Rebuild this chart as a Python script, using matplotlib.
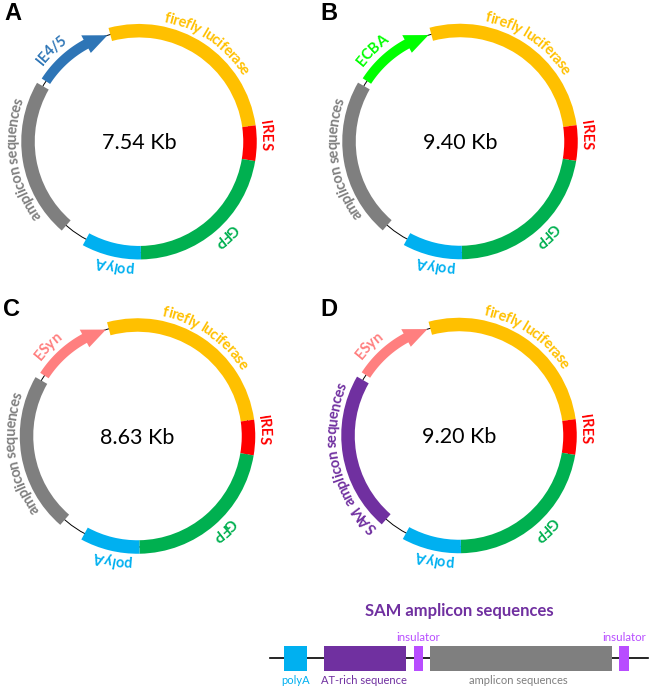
import numpy as np
import matplotlib
matplotlib.use('Agg')
import matplotlib.pyplot as plt
from matplotlib.font_manager import FontProperties, findfont, get_font
from matplotlib.ft2font import LoadFlags
from matplotlib.patches import Circle, Polygon, Rectangle, Wedge

# Ring segments, degrees clockwise from the top of the circle.
segment_names = ['firefly luciferase', 'IRES', 'GFP', 'polyA']
segment_starts = [-15, 82, 99.5, 179]
segment_ends = [82, 99.5, 179, 208.5]
segment_colors = ['#FFC000', '#FF0000', '#00B050', '#00B0F0']
segment_label_mid = [34.5, 87, 137.5, 191]

insert_start = 221
insert_end = 300
promoter_start = 303
promoter_end = 343.5

panel_letters = ['A', 'B', 'C', 'D']
panel_sizes = ['7.54 Kb', '9.40 Kb', '8.63 Kb', '9.20 Kb']
panel_promoters = ['IE4/5', 'ECBA', 'ESyn', 'ESyn']
promoter_colors = ['#2E75B6', '#00FF00', '#FF7F7F', '#FF7F7F']
promoter_label_mid = [316, 316, 315, 315]
panel_inserts = ['amplicon sequences', 'amplicon sequences',
                 'amplicon sequences', 'SAM amplicon sequences']
insert_colors = ['#7F7F7F', '#7F7F7F', '#7F7F7F', '#7030A0']
insert_label_mid = [261.5, 261.5, 261.5, 258]

# Linear map of the SAM construct, in pixels along the line.
map_names = ['polyA', 'AT-rich sequence', 'insulator', 'amplicon sequences', 'insulator']
map_starts = [283.5, 323.5, 413.5, 430, 619]
map_ends = [307, 405.5, 423, 612, 628.5]
map_colors = ['#00B0F0', '#7030A0', '#B84DFF', '#7F7F7F', '#B84DFF']
map_label_x = [296, 364, 418, 518, 624]

centers = [(139, 141.7), (460, 141.5), (137.5, 436), (459, 435.5)]
letter_pos = [(4, 20), (320, 20), (3, 316), (320, 316)]
ring_r = 111
ring_w = 13.5
DPI = 100
tracking = 0.93


def curved_text(ax, cx, cy, radius, mid, label, color, size):
    # One rotated text per character, running clockwise round the ring.
    fp = FontProperties(family='Lato', weight='bold', size=size)
    font = get_font(findfont(fp))
    font.set_size(size, DPI)
    widths = []
    for ch in label:
        glyph = font.load_char(ord(ch), flags=LoadFlags.NO_HINTING)
        widths.append(tracking * glyph.linearHoriAdvance / 65536)
    total = sum(widths)
    pos = -total / 2
    for ch, w in zip(label, widths):
        a = mid + np.degrees((pos + w / 2) / radius)
        t = np.radians(a - 90)
        ax.text(cx + radius * np.cos(t), cy + radius * np.sin(t), ch,
                color=color, fontproperties=fp, rotation=-a,
                rotation_mode='anchor', ha='center', va='baseline')
        pos += w


def promoter_arrow(ax, cx, cy, color):
    head_start = promoter_end - 12
    arc = np.radians(np.linspace(promoter_start, head_start, 30) - 90)
    r_out = ring_r + 5
    r_in = ring_r - 5
    pts = [(cx + r_out * np.cos(t), cy + r_out * np.sin(t)) for t in arc]
    h = np.radians(head_start - 90)
    tip = np.radians(promoter_end - 90)
    pts.append((cx + (ring_r + 10) * np.cos(h), cy + (ring_r + 10) * np.sin(h)))
    pts.append((cx + ring_r * np.cos(tip), cy + ring_r * np.sin(tip)))
    pts.append((cx + (ring_r - 10) * np.cos(h), cy + (ring_r - 10) * np.sin(h)))
    pts += [(cx + r_in * np.cos(t), cy + r_in * np.sin(t)) for t in arc[::-1]]
    ax.add_patch(Polygon(pts, closed=True, color=color, lw=0, zorder=3))


fig = plt.figure(figsize=(6.5, 6.89), dpi=DPI)
ax = fig.add_axes([0, 0, 1, 1])
ax.set_xlim(0, 650)
ax.set_ylim(689, 0)
ax.axis('off')

for i, (cx, cy) in enumerate(centers):
    ax.add_patch(Circle((cx, cy), ring_r, fill=False, ec='black', lw=0.7, zorder=1))

    for start, end, color in zip(segment_starts, segment_ends, segment_colors):
        ax.add_patch(Wedge((cx, cy), ring_r + ring_w / 2, start - 90, end - 90,
                           width=ring_w, color=color, lw=0, zorder=2))
    ax.add_patch(Wedge((cx, cy), ring_r + ring_w / 2, insert_start - 90, insert_end - 90,
                       width=ring_w, color=insert_colors[i], lw=0, zorder=2))
    promoter_arrow(ax, cx, cy, promoter_colors[i])

    for name, mid, color in zip(segment_names, segment_label_mid, segment_colors):
        curved_text(ax, cx, cy, 122.5, mid, name, color, 10.5)
    curved_text(ax, cx, cy, 122.5, insert_label_mid[i], panel_inserts[i], insert_colors[i], 10.5)
    curved_text(ax, cx, cy, 122.5, promoter_label_mid[i], panel_promoters[i], promoter_colors[i], 10.5)

    ax.text(cx, cy + 1.5, panel_sizes[i], family='Lato', fontsize=15.5, ha='center', va='center')
    ax.text(letter_pos[i][0], letter_pos[i][1], panel_letters[i], family='Liberation Sans',
            fontweight='bold', fontsize=17, ha='left', va='baseline')

# SAM construct map
ax.plot([270, 648], [658, 658], color='black', lw=1.2, zorder=1)
for name, start, end, color, lx in zip(map_names, map_starts, map_ends, map_colors, map_label_x):
    ax.add_patch(Rectangle((start, 646), end - start, 24.5, fc=color, ec='none', zorder=2))
    if name == 'insulator':
        ax.text(lx, 641, name, color=color, family='Lato',
                fontsize=8.3, ha='center', va='baseline')
    else:
        ax.text(lx, 684, name, color=color, family='Lato',
                fontsize=8, ha='center', va='baseline')
ax.text(459, 616, 'SAM amplicon sequences', color='#7030A0', family='Lato',
        fontweight='bold', fontsize=12, ha='center', va='baseline')

fig.savefig('out.png', dpi=DPI)
plt.close()
